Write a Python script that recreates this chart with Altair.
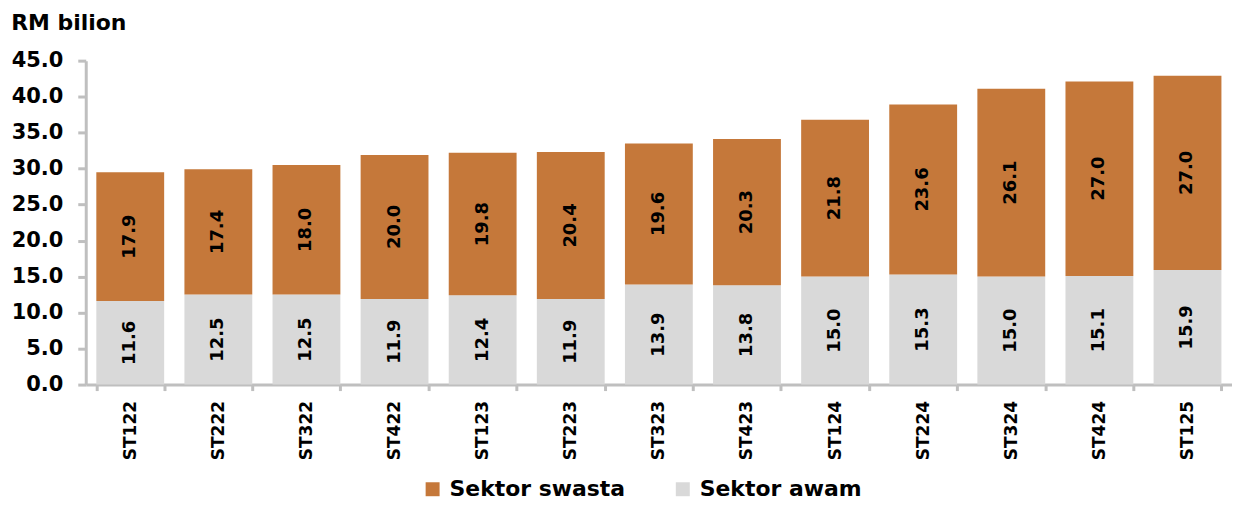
import altair as alt
import pandas as pd

quarters = ["ST122", "ST222", "ST322", "ST422", "ST123", "ST223", "ST323",
            "ST423", "ST124", "ST224", "ST324", "ST424", "ST125"]
sektor_awam = [11.6, 12.5, 12.5, 11.9, 12.4, 11.9, 13.9, 13.8, 15.0, 15.3, 15.0, 15.1, 15.9]
sektor_swasta = [17.9, 17.4, 18.0, 20.0, 19.8, 20.4, 19.6, 20.3, 21.8, 23.6, 26.1, 27.0, 27.0]
series_names = ["Sektor swasta", "Sektor awam"]
series_colors = ["#C5783A", "#D9D9D9"]
y_ticks = [0, 5, 10, 15, 20, 25, 30, 35, 40, 45]

rows = []
for q, a, s in zip(quarters, sektor_awam, sektor_swasta):
    rows.append({"quarter": q, "series": "Sektor awam", "value": a, "ord": 0})
    rows.append({"quarter": q, "series": "Sektor swasta", "value": s, "ord": 1})
df = pd.DataFrame(rows)

FONT = "DejaVu Sans"

base = alt.Chart(df).transform_stack(
    stack="value", groupby=["quarter"], as_=["v0", "v1"],
    sort=[alt.SortField("ord", order="ascending")]
).transform_calculate(mid="(datum.v0 + datum.v1) / 2")

x_scale = alt.Scale(paddingInner=0.23, paddingOuter=0.12)
y_scale = alt.Scale(domain=[0, 45], nice=False)

x_axis = alt.Axis(labelAngle=-90, labelFont=FONT, labelFontSize=17,
                  labelFontWeight="bold", labelColor="#000000",
                  labelPadding=10, labelOverlap=False,
                  domainColor="#BFBFBF", domainWidth=3,
                  tickColor="#BFBFBF", tickWidth=3, tickSize=6,
                  tickBand="extent", grid=False)
y_axis = alt.Axis(values=y_ticks, format=".1f", labelFont=FONT,
                  labelFontSize=21, labelFontWeight="bold",
                  labelColor="#000000", labelPadding=15,
                  labelOverlap=False,
                  domainColor="#BFBFBF", domainWidth=3,
                  tickColor="#BFBFBF", tickWidth=3, tickSize=8,
                  grid=False)

bars = base.mark_bar().encode(
    x=alt.X("quarter:N", sort=quarters, title=None, scale=x_scale, axis=x_axis),
    y=alt.Y("v0:Q", title=None, scale=y_scale, axis=y_axis),
    y2="v1:Q",
    color=alt.Color("series:N",
                    scale=alt.Scale(domain=series_names, range=series_colors),
                    legend=alt.Legend(title=None, orient="none", direction="horizontal",
                                      legendX=337, legendY=419,
                                      symbolType="square", symbolSize=196,
                                      symbolStrokeWidth=0,
                                      labelFont=FONT, labelFontSize=22,
                                      labelFontWeight="bold", labelColor="#000000",
                                      columnPadding=46, labelOffset=6,
                                      labelLimit=300)),
)

labels = base.mark_text(angle=270, font=FONT, fontSize=18, fontWeight="bold",
                        color="#000000", baseline="middle", align="center").encode(
    x=alt.X("quarter:N", sort=quarters, title=None, scale=x_scale, axis=x_axis),
    y=alt.Y("mid:Q", title=None, scale=y_scale, axis=y_axis),
    text=alt.Text("value:Q", format=".1f"),
)

chart = alt.layer(bars, labels).properties(
    width=1150, height=325,
    autosize=alt.AutoSizeParams(type="none"),
    padding={"left": 78, "top": 52, "right": 0, "bottom": 120},
    title=alt.TitleParams("RM bilion", anchor="start", frame="bounds", font=FONT,
                          fontSize=22, fontWeight="bold", color="#000000",
                          offset=15, dx=0),
).configure_view(stroke=None)

chart.save("out.html", embed_options={"renderer": "svg", "actions": False})
